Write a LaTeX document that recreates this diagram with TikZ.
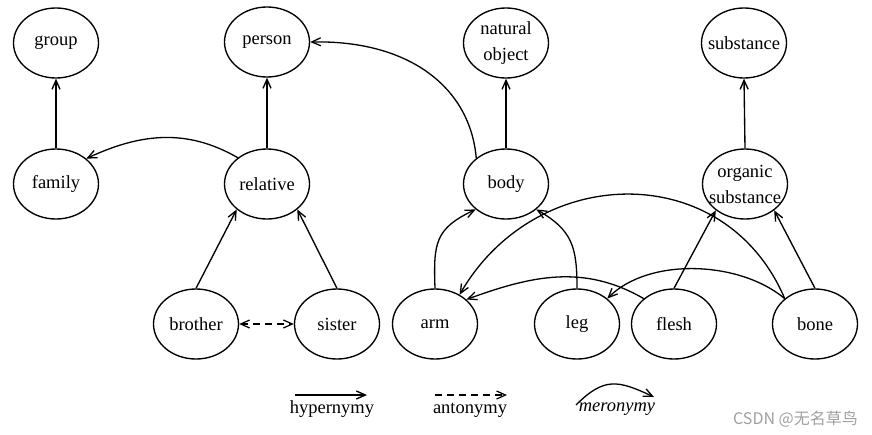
\documentclass[tikz,border=0pt]{standalone}
\usepackage{fontspec}
\setmainfont{Liberation Serif}
\newfontfamily\cjk{Noto Sans CJK SC}
\usetikzlibrary{shapes.geometric,arrows.meta}
\tikzset{
  ell/.style={draw, ellipse, line width=1.35pt, minimum width=85pt, minimum height=70pt,
    inner xsep=-12pt, inner ysep=0pt, align=center, font=\rmfamily\fontsize{18.5}{26}\selectfont},
  hyp/.style={-{Straight Barb[length=9pt,width=8pt]}, line width=1.35pt},
  mer/.style={-{Straight Barb[length=9pt,width=8pt]}, line width=1.3pt},
  ant/.style={{Straight Barb[length=9pt,width=8pt]}-{Straight Barb[length=9pt,width=8pt]},
    line width=1.2pt, dash pattern=on 7pt off 5pt},
  lbl/.style={anchor=base, font=\rmfamily\fontsize{18.5}{22}\selectfont, inner sep=0pt},
}
\begin{document}
\begin{tikzpicture}[x=1pt,y=1pt]
\fill[white] (0,0) rectangle (872,-434);
\useasboundingbox (0,0) rectangle (872,-434);
% nodes
\node[ell] (group) at (56,-43) {group};
\node[ell] (person) at (267,-42) {person};
\node[ell] (natobj) at (506,-43) {natural\\object};
\node[ell] (substance) at (744,-43) {substance};
\node[ell] (family) at (56,-184) {family};
\node[ell] (relative) at (267,-184) {relative};
\node[ell] (body) at (506,-184) {body};
\node[ell] (organic) at (745,-184) {organic\\substance};
\node[ell] (brother) at (196,-324) {brother};
\node[ell] (sister) at (337,-324) {sister};
\node[ell] (arm) at (435,-324) {arm};
\node[ell] (leg) at (577,-324) {leg};
\node[ell] (flesh) at (674,-324) {flesh};
\node[ell] (bone) at (815,-324) {bone};
% hypernymy
\draw[hyp] (family.north) -- (group.south);
\draw[hyp] (relative.north) -- (person.south);
\draw[hyp] (body.north) -- (natobj.south);
\draw[hyp] (organic.north) -- (substance.south);
\draw[hyp] (brother.north) -- (relative.220);
\draw[hyp] (sister.north) -- (relative.320);
\draw[hyp] (flesh.north) -- (organic.222);
\draw[hyp] (bone.north) -- (organic.318);
% antonymy
\draw[ant] (brother.east) -- (sister.west);
% meronymy
\draw[mer] (relative.138) to[out=150,in=25] (family.40);
\draw[mer] (body.139) .. controls +(-6,70) and +(100,2) .. (person.east);
\draw[mer] (arm.north) to[out=92,in=205,looseness=1.3] (body.220);
\draw[mer] (leg.north) to[out=90,in=-30,looseness=1.2] (body.320);
\draw[mer] (bone.140) to[out=113,in=60,looseness=1.2] (arm.50);
\draw[mer] (bone.140) to[out=140,in=45,looseness=0.85] (leg.40);
\draw[mer] (flesh.140) to[out=150,in=20] (arm.38);
% legend
\coordinate (h1) at (295,-395); \coordinate (h2) at (367,-395);
\coordinate (a1) at (435,-395); \coordinate (a2) at (507,-395);
\coordinate (m1) at (576,-405); \coordinate (m2) at (654,-397);
\draw[hyp] (h1) -- (h2);
\draw[line width=1.2pt, dash pattern=on 7pt off 5pt, -{Straight Barb[length=9pt,width=8pt]}] (a1) -- (a2);
\draw[mer] (m1) to[out=45,in=155,looseness=1.3] (m2);
\node[lbl] (lh) at (332,-413) {hypernymy};
\node[lbl] (la) at (470,-413) {antonymy};
\node[lbl] (lm) at (617,-411) {\itshape meronymy};
% watermark
\node[anchor=east, inner sep=0pt, text={rgb,255:red,160;green,160;blue,160}, font=\cjk\fontsize{16}{18}\selectfont] (wm) at (858,-419) {CSDN @无名草鸟};
\end{tikzpicture}
\end{document}
